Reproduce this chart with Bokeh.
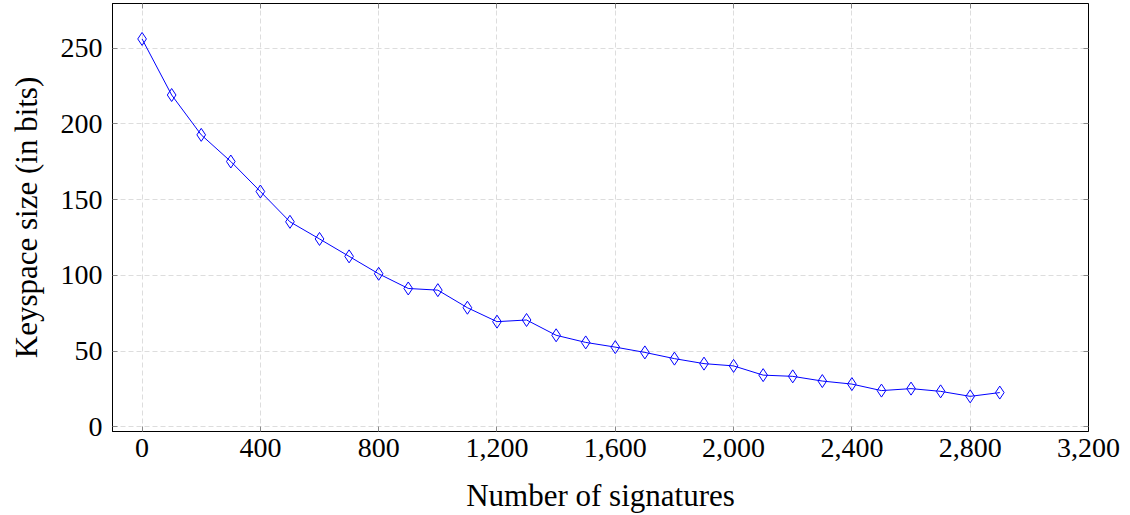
from bokeh.plotting import figure
from bokeh.models import LinearAxis, FixedTicker, NumeralTickFormatter, Range1d
from bokeh.embed import file_html
from bokeh.resources import INLINE

# Data
signatures = [0, 100, 200, 300, 400, 500, 600, 700, 800, 900,
              1000, 1100, 1200, 1300, 1400, 1500, 1600, 1700, 1800, 1900,
              2000, 2100, 2200, 2300, 2400, 2500, 2600, 2700, 2800, 2900]
keyspace_bits = [256, 219, 192.7, 175.1, 155.3, 135.3, 124, 112.5, 101, 91.3,
                 90.2, 78.6, 69.4, 70.5, 60.4, 55.7, 52.6, 49.1, 45.0, 41.7,
                 40.2, 34.1, 33.3, 30.2, 28.2, 23.9, 25.2, 23.4, 20.1, 22.6]
x_ticks = [0, 400, 800, 1200, 1600, 2000, 2400, 2800, 3200]
y_ticks = [0, 50, 100, 150, 200, 250]
x_label = "Number of signatures"
y_label = "Keyspace size (in bits)"

FONT = "Liberation Serif"
FS = "28px"
LFS = "31px"

p = figure(frame_width=976, frame_height=428,
           x_range=Range1d(-100, 3200), y_range=Range1d(-3.1, 279.4),
           output_backend="svg", toolbar_location=None,
           x_axis_label=x_label, y_axis_label=y_label,
           min_border_left=112, min_border_right=33, min_border_top=3,
           min_border_bottom=10)
p.outline_line_color = "#000000"
p.outline_line_width = 1
p.background_fill_color = "white"
p.border_fill_color = "white"

for ax in (p.xaxis[0], p.yaxis[0]):
    ax.major_label_text_font = FONT
    ax.major_label_text_font_size = FS
    ax.major_label_text_color = "#000000"
    ax.axis_label_text_font = FONT
    ax.axis_label_text_font_size = LFS
    ax.axis_label_text_font_style = "normal"
    ax.axis_label_text_color = "#000000"
    ax.major_tick_in = 5
    ax.major_tick_out = 0
    ax.minor_tick_line_color = None
    ax.major_tick_line_color = "#888888"
    ax.axis_line_color = "#000000"

p.xaxis[0].ticker = FixedTicker(ticks=x_ticks)
p.xaxis[0].formatter = NumeralTickFormatter(format="0,0")
p.yaxis[0].ticker = FixedTicker(ticks=y_ticks)
p.xaxis[0].major_label_standoff = 7
p.xaxis[0].axis_label_standoff = 18
p.yaxis[0].major_label_standoff = 10
p.yaxis[0].axis_label_standoff = 14

for side, ticks in (("above", x_ticks), ("right", y_ticks)):
    ax = LinearAxis(ticker=FixedTicker(ticks=ticks),
                    major_label_text_font_size="1px",
                    major_label_text_color=None,
                    major_label_standoff=0,
                    major_tick_in=5, major_tick_out=0,
                    major_tick_line_color="#888888",
                    minor_tick_line_color=None,
                    axis_line_color="#000000")
    p.add_layout(ax, side)

for g in (p.xgrid[0], p.ygrid[0]):
    g.grid_line_color = "#dddddd"
    g.grid_line_dash = "5 3"
    g.grid_line_width = 1

p.line(signatures, keyspace_bits, line_color="#0000ff", line_width=1)
p.scatter(signatures, keyspace_bits, marker="diamond", size=13,
          line_color="#0000ff", line_width=1, fill_alpha=0)

open("out.html", "w").write(file_html(p, INLINE))
